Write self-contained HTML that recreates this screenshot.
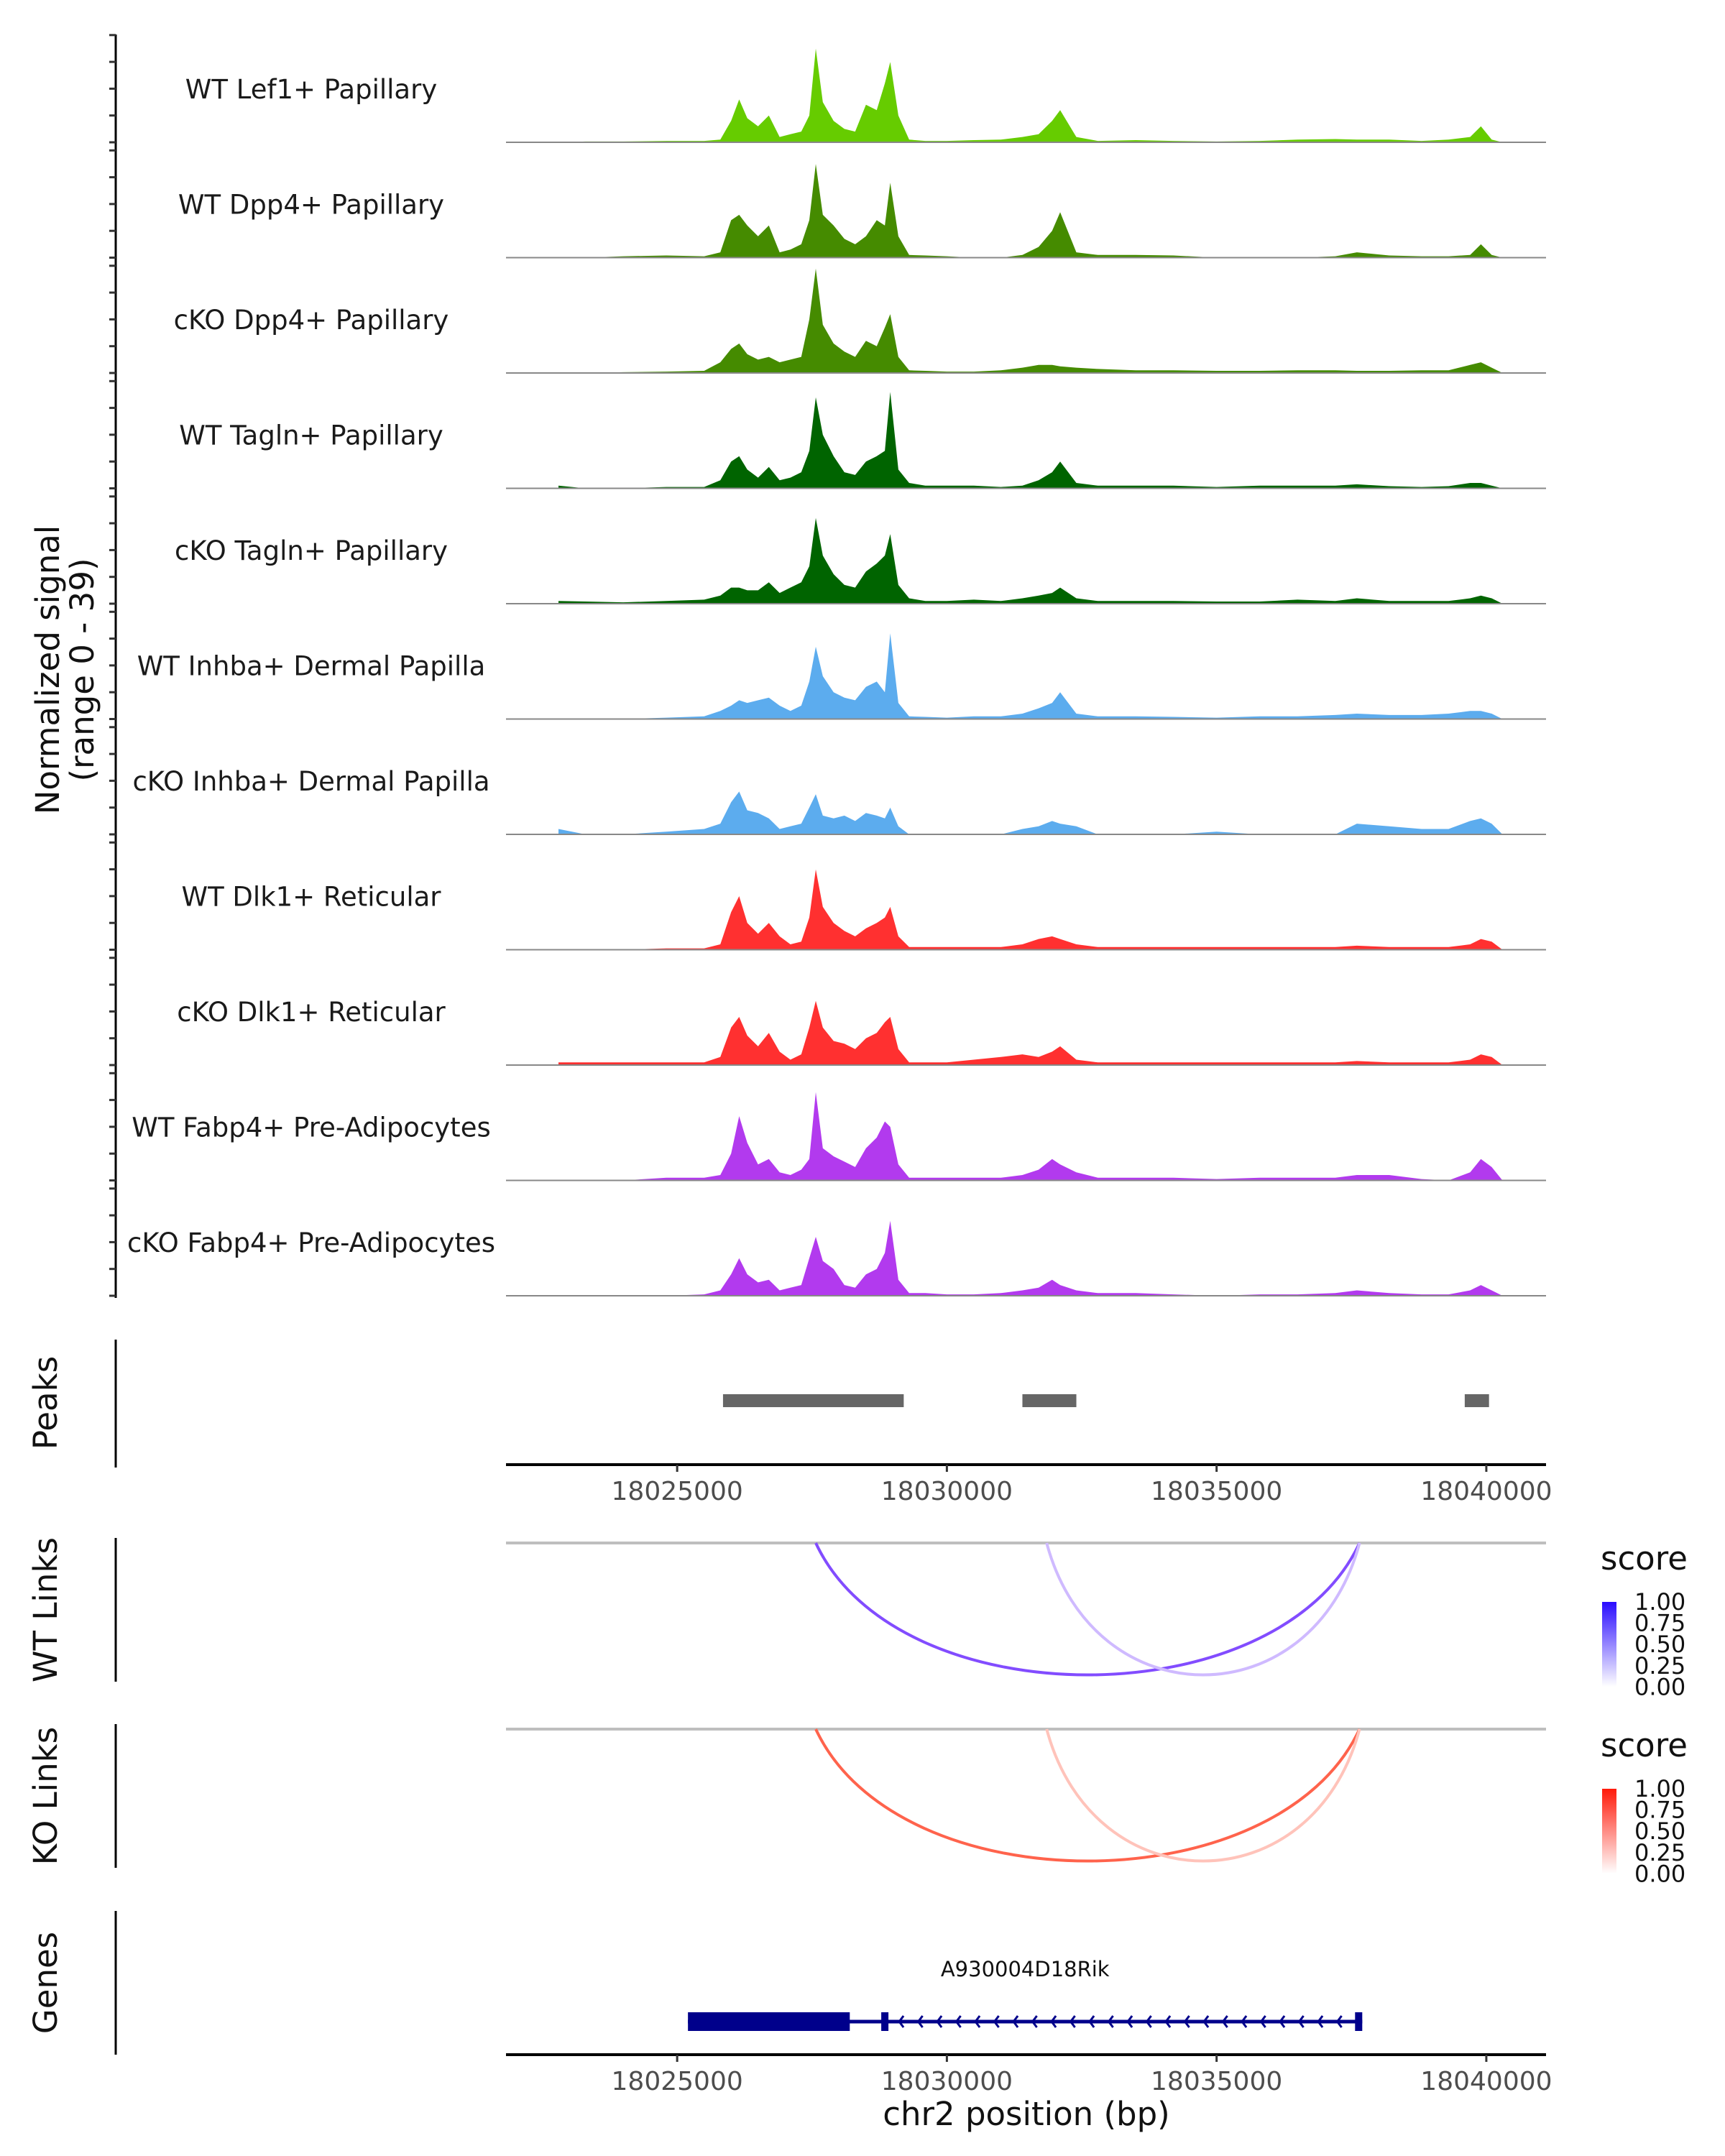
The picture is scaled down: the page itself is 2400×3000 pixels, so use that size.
<!DOCTYPE html>
<html><head><meta charset="utf-8"><style>
html,body{margin:0;padding:0;background:#fff;}
svg{display:block;font-family:"DejaVu Sans","Liberation Sans",sans-serif;}
</style></head><body>
<svg id="chart" width="2400" height="3000" viewBox="0 0 2400 3000" xmlns="http://www.w3.org/2000/svg">
<g id="tracks"></g>
<text transform="translate(82,932) rotate(-90)" text-anchor="middle" font-size="45" fill="#111">Normalized signal</text>
<text transform="translate(130,932) rotate(-90)" text-anchor="middle" font-size="45" fill="#111">(range 0 - 39)</text>
<g id="peaks"></g>
<g id="links"></g>
<g id="genes"></g>
</svg>
<script>
const trackNames=["WT Lef1+ Papillary","WT Dpp4+ Papillary","cKO Dpp4+ Papillary","WT Tagln+ Papillary","cKO Tagln+ Papillary","WT Inhba+ Dermal Papilla","cKO Inhba+ Dermal Papilla","WT Dlk1+ Reticular","cKO Dlk1+ Reticular","WT Fabp4+ Pre-Adipocytes","cKO Fabp4+ Pre-Adipocytes"];
const trackColors=["#66cc00","#458b00","#458b00","#006400","#006400","#5cacee","#5cacee","#ff3030","#ff3030","#b23aee","#b23aee"];
const positions=[18022800,18023300,18024000,18024800,18025500,18025800,18026000,18026150,18026300,18026500,18026700,18026900,18027100,18027300,18027450,18027570,18027700,18027900,18028100,18028300,18028500,18028700,18028850,18028950,18029100,18029300,18029600,18030000,18030500,18031000,18031400,18031700,18031950,18032100,18032400,18032800,18033500,18034200,18035000,18035800,18036500,18037200,18037600,18038200,18038800,18039300,18039700,18039900,18040100,18040300];
const sigLef1=[0,0.3,0.3,0.5,0.5,1,8,16,9,6,10,2,3,4,10,35,15,8,5,4,14,12,22,30,10,1,0.5,0.5,0.8,1,2,3,8,12,2,0.5,0.8,0.5,0.3,0.5,1,1.2,1,1,0.5,1,2,6,1,0];
const sigDpp4WT=[0,0,0.5,0.8,0.5,2,14,16,12,8,12,2,3,5,14,35,16,12,7,5,8,14,12,28,8,1,0.8,0.5,0,0,1,4,10,17,2,1,1,0.8,0,0,0,0.5,2,0.8,0.5,0.5,1,5,1,0];
const sigDpp4KO=[0,0,0.3,0.5,0.8,4,9,11,7,5,6,4,5,6,20,39,18,11,8,6,12,10,17,22,6,1,0.8,0.5,0.5,1,2,3,3,2.5,2,1.5,1,1,0.8,0.8,1,1,0.8,0.8,1,1,3,4,2,0];
const sigTaglnWT=[1,0,0,0.5,0.5,3,10,12,7,4,8,3,4,6,14,34,20,12,6,5,10,12,14,36,7,2,1,1,1,0.5,1,3,6,10,2,1,1,1,0.5,1,1,1,1.5,0.8,0.5,0.8,2,2,1,0];
const sigTaglnKO=[1,0.8,0.5,1,1.5,3,6,6,5,5,8,4,6,8,14,32,18,11,7,6,12,15,18,26,7,2,1,1,1.5,1,2,3,4,6,2,1,1,1,0.8,0.8,1.5,1,2,1,1,1,2,3,2,0];
const sigInhbaWT=[0,0,0,0.5,1,3,5,7,6,7,8,5,3,5,14,27,16,10,8,7,12,14,10,32,6,1,0.8,0.5,1,1,2,4,6,10,2,1,1,0.8,0.5,1,1,1.5,2,1.5,1.5,2,3,3,2,0];
const sigInhbaKO=[2,0,0,1,2,4,12,16,9,8,6,2,3,4,10,15,7,6,7,5,8,7,6,10,3,0,0,0,0,0,2,3,5,4,3,0,0,0,1,0,0,0,4,3,2,2,5,6,4,0];
const sigDlk1WT=[0,0,0,0.5,0.5,2,14,20,10,6,10,5,2,3,12,30,16,10,7,5,8,10,12,16,5,1,1,1,1,1,2,4,5,4,2,1,1,1,1,1,1,1,1.5,1,1,1,2,4,3,0];
const sigDlk1KO=[1,1,1,1,1,3,14,18,11,7,12,5,2,4,14,24,14,9,8,6,10,12,16,18,6,1,1,1,2,3,4,3,5,7,2,1,1,1,1,1,1,1,1.5,1,1,1,2,4,3,0];
const sigFabp4WT=[0,0,0,1,1,2,10,24,14,6,8,3,2,4,8,33,12,9,7,5,12,16,22,20,6,1,1,1,1,1,2,4,8,6,3,1,1,1,0.5,1,1,1,2,2,0.5,0,3,8,5,0];
const sigFabp4KO=[0,0,0,0,0.5,2,8,14,8,5,6,2,3,4,14,22,13,10,4,3,8,10,16,28,6,1,1,0.5,0.5,1,2,3,6,4,2,1,1,0.5,0,0.5,0.5,1,2,1,0.5,0.5,2,4,2,0];
const signals=[sigLef1,sigDpp4WT,sigDpp4KO,sigTaglnWT,sigTaglnKO,sigInhbaWT,sigInhbaKO,sigDlk1WT,sigDlk1KO,sigFabp4WT,sigFabp4KO];
const xTicks=[18025000,18030000,18035000,18040000];
const peakStarts=[18025850,18031400,18039600];
const peakEnds=[18029200,18032400,18040050];
const wtLinkStarts=[18027570,18031850];
const wtLinkEnds=[18037650,18037650];
const wtLinkScores=[0.78,0.3];
const koLinkStarts=[18027570,18031850];
const koLinkEnds=[18037650,18037650];
const koLinkScores=[0.78,0.3];
const legendTicks=["1.00","0.75","0.50","0.25","0.00"];
const geneName="A930004D18Rik";
const geneStart=18025200, geneEnd=18037700, cdsStart=18025200, cdsEnd=18028200, exon2=18028850;

const NS="http://www.w3.org/2000/svg";
const X0=704,X1=2151,BP0=18021827,BP1=18041107;
function xs(bp){return X0+(bp-BP0)*(X1-X0)/(BP1-BP0);}
function mk(tag,attrs,parent){const e=document.createElementNS(NS,tag);for(const k in attrs)e.setAttribute(k,attrs[k]);parent.appendChild(e);return e;}
const baselines=[198,358.5,519,679.5,840,1000.5,1161,1321.5,1482,1642.5,1803];
const unitPx=149/40;
const gT=document.getElementById('tracks');
let ax=mk('line',{x1:161,y1:48,x2:161,y2:1806,stroke:'#000','stroke-width':3},gT);


trackNames.forEach((name,i)=>{
  const b=baselines[i];
  for(let k=0;k<=4;k++){
    const t=mk('line',{x1:152,x2:161,y1:b-k*37.3,y2:b-k*37.3,stroke:'#333','stroke-width':3},gT);
    
    
  }
  const sig=signals[i];
  let d='M'+xs(positions[0]).toFixed(1)+','+b;
  positions.forEach((p,j)=>{d+=' L'+xs(p).toFixed(1)+','+(b-sig[j]*unitPx).toFixed(1);});
  d+=' L'+xs(positions[positions.length-1]).toFixed(1)+','+b+' Z';
  const a=mk('path',{d:d,fill:trackColors[i]},gT);
  
  
  const bl=mk('line',{x1:X0,x2:X1,y1:b,y2:b,stroke:'#888','stroke-width':2},gT);
  
  
  const tx=mk('text',{x:433,y:b-61,'text-anchor':'middle','font-size':37,fill:'#1a1a1a'},gT);
  tx.textContent=name;
  
  
});
const gP=document.getElementById('peaks');
let pl=mk('text',{transform:'translate(79,1952) rotate(-90)','text-anchor':'middle','font-size':45,fill:'#111'},gP);pl.textContent='Peaks';


let pa=mk('line',{x1:161,y1:1864,x2:161,y2:2042,stroke:'#000','stroke-width':3},gP);


peakStarts.forEach((s,i)=>{
  const r=mk('rect',{x:xs(s),y:1940,width:xs(peakEnds[i])-xs(s),height:18,fill:'#666'},gP);
  
  
});
function xAxis(g,y){
  const l=mk('line',{x1:X0,x2:X1,y1:y,y2:y,stroke:'#000','stroke-width':4},g);
  
  
  xTicks.forEach(t=>{
    const tk=mk('line',{x1:xs(t),x2:xs(t),y1:y,y2:y+10,stroke:'#333','stroke-width':3},g);
    
    
    const tl=mk('text',{x:xs(t),y:y+49,'text-anchor':'middle','font-size':36,fill:'#4d4d4d'},g);
    tl.textContent=t;
    
    
  });
}
xAxis(gP,2038);
const gL=document.getElementById('links');
function linkPanel(title,top,starts,ends,scores,hue,legendY){
  const tt=mk('text',{transform:'translate(79,'+(top+93)+') rotate(-90)','text-anchor':'middle','font-size':45,fill:'#111'},gL);tt.textContent=title;
  
  
  const a=mk('line',{x1:161,y1:top-7,x2:161,y2:top+193,stroke:'#000','stroke-width':3},gL);
  
  
  const g=mk('line',{x1:X0,x2:X1,y1:top,y2:top,stroke:'#bebebe','stroke-width':4},gL);
  
  
  const depth=184;
  starts.forEach((s,i)=>{
    const x1=xs(s),x2=xs(ends[i]);
    const c=hue==='blue'?`rgb(${Math.round(255-scores[i]*160)},${Math.round(255-scores[i]*230)},255)`:`rgb(255,${Math.round(255-scores[i]*200)},${Math.round(255-scores[i]*230)})`;
    const p=mk('path',{d:`M${x1},${top} C${x1+(x2-x1)*0.15},${top+depth*1.33} ${x2-(x2-x1)*0.15},${top+depth*1.33} ${x2},${top}`,fill:'none',stroke:c,'stroke-width':4},gL);
    
    
  });
  const st=mk('text',{x:2227,y:legendY,'font-size':45,fill:'#111'},gL);st.textContent='score';
  
  
  const gid='grad'+hue;
  const defs=mk('defs',{},gL);const lg=mk('linearGradient',{id:gid,x1:0,y1:1,x2:0,y2:0},defs);
  mk('stop',{offset:0,'stop-color':'#fff'},lg);
  mk('stop',{offset:1,'stop-color':hue==='blue'?'#2a0cff':'#ff1a0a'},lg);
  const cb=mk('rect',{x:2229,y:legendY+45,width:20,height:118,fill:`url(#${gid})`},gL);
  
  
  legendTicks.forEach((t,k)=>{
    const yy=legendY+45+k*29.6;
    const tl=mk('text',{x:2274,y:yy+11,'font-size':32,fill:'#111'},gL);tl.textContent=t;
    
    
  });
}
linkPanel('WT Links',2147,wtLinkStarts,wtLinkEnds,wtLinkScores,'blue',2184);
linkPanel('KO Links',2406,koLinkStarts,koLinkEnds,koLinkScores,'red',2444);
const gG=document.getElementById('genes');
let gt=mk('text',{transform:'translate(79,2759) rotate(-90)','text-anchor':'middle','font-size':45,fill:'#111'},gG);gt.textContent='Genes';


let ga=mk('line',{x1:161,y1:2659,x2:161,y2:2859,stroke:'#000','stroke-width':3},gG);


let gl=mk('text',{x:(xs(geneStart)+xs(geneEnd))/2,y:2750,'text-anchor':'middle','font-size':29,fill:'#111'},gG);gl.textContent=geneName;


const gy=2813;
let gline=mk('line',{x1:xs(geneStart),x2:xs(geneEnd),y1:gy,y2:gy,stroke:'#00008b','stroke-width':5},gG);


let cds=mk('rect',{x:xs(cdsStart),y:gy-13,width:xs(cdsEnd)-xs(cdsStart),height:26,fill:'#00008b'},gG);


let e2=mk('rect',{x:xs(exon2)-5,y:gy-13,width:10,height:26,fill:'#00008b'},gG);


let e3=mk('rect',{x:xs(geneEnd)-10,y:gy-13,width:10,height:26,fill:'#00008b'},gG);


for(let x=xs(exon2)+20;x<xs(geneEnd)-10;x+=26.5){
  const c=mk('polyline',{points:`${x+6},${gy-8} ${x},${gy} ${x+6},${gy+8}`,fill:'none',stroke:'#00008b','stroke-width':3},gG);
  
  
}
xAxis(gG,2859);
let xl=mk('text',{x:1428,y:2957,'text-anchor':'middle','font-size':45,fill:'#111'},gG);xl.textContent='chr2 position (bp)';


</script>
</body></html>
